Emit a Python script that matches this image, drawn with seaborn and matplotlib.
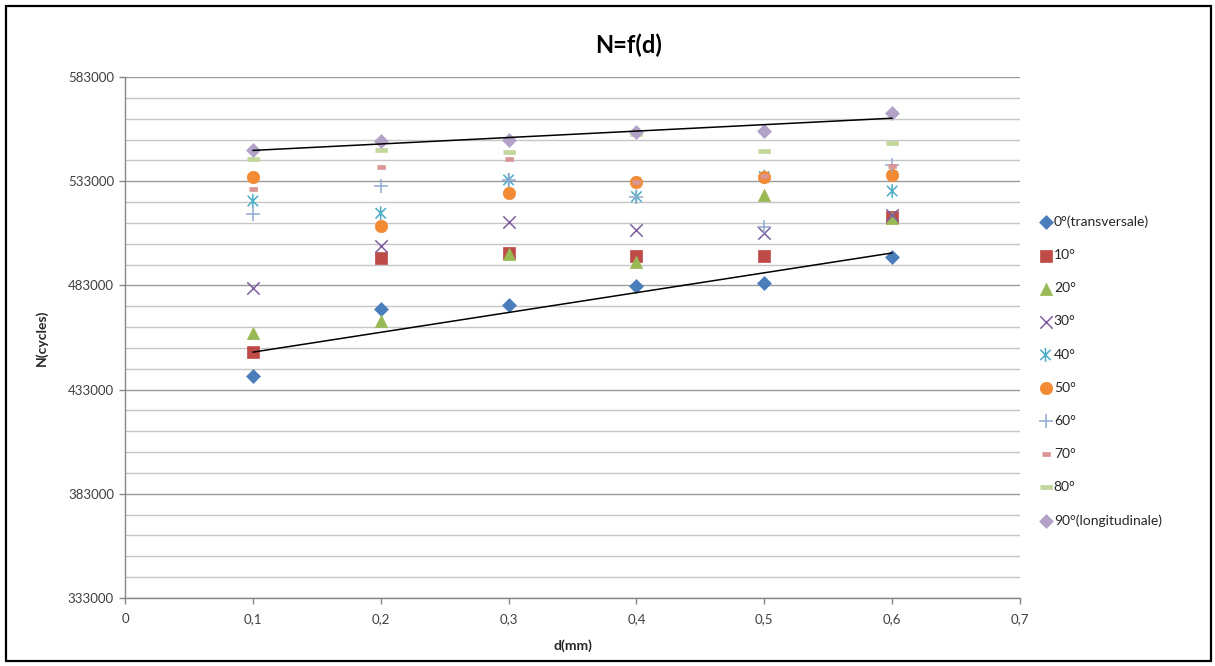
import numpy as np
import pandas as pd
import seaborn as sns
import matplotlib.pyplot as plt
from matplotlib.path import Path
from matplotlib.patches import Rectangle
from matplotlib.ticker import MultipleLocator, FuncFormatter

# données : N (cycles) en fonction de d (mm)
d = [0.1, 0.2, 0.3, 0.4, 0.5, 0.6]
n_0 = [439600, 471600, 473600, 482700, 484300, 496800]
n_10 = [451200, 496300, 498400, 497100, 497100, 515900]
n_20 = [460000, 466000, 498200, 494400, 526400, 515200]
n_30 = [481900, 502000, 513600, 509600, 508300, 516800]
n_40 = [523500, 517600, 533600, 525600, 535200, 528300]
n_50 = [534900, 511500, 527200, 532800, 535200, 536000]
n_60 = [517100, 530800, 533600, 525600, 511200, 540800]
n_70 = [529100, 540000, 543500, 532500, 535500, 540300]
n_80 = [543500, 548000, 546900, 555500, 547500, 551500]
n_90 = [548000, 552300, 552800, 556800, 557200, 565900]

labels = ['0°(transversale)', '10°', '20°', '30°', '40°', '50°', '60°', '70°', '80°',
          '90°(longitudinale)']
series = [n_0, n_10, n_20, n_30, n_40, n_50, n_60, n_70, n_80, n_90]
colors = ['#4A7EBB', '#BE4B48', '#98B954', '#7D5FA0', '#4BACC6', '#F38A34',
          '#92A9CF', '#D99694', '#C3D69B', '#B3A2C7']

y_major = np.arange(333000, 583001, 50000)
y_minor = np.arange(333000, 583001, 10000)

# marqueurs façon Excel
asterisk = Path([(0, -1), (0, 1), (-0.75, -0.75), (0.75, 0.75), (-0.75, 0.75), (0.75, -0.75)],
                [Path.MOVETO, Path.LINETO, Path.MOVETO, Path.LINETO, Path.MOVETO, Path.LINETO])
short_dash = [(-1, -0.5), (1, -0.5), (1, 0.5), (-1, 0.5)]
long_dash = [(-1, -0.3), (1, -0.3), (1, 0.3), (-1, 0.3)]
markers = ['D', 's', '^', 'x', asterisk, 'o', '+', short_dash, long_dash, 'D']
sizes = [50, 68, 78, 80, 100, 80, 100, 36, 80, 50]

sns.set_theme(style='white')
plt.rcParams['font.family'] = ['Lato', 'DejaVu Sans']

fig = plt.figure(figsize=(12.15, 6.66), dpi=100)
ax = fig.add_axes([125 / 1215, 1 - 598 / 666, (1020 - 125) / 1215, (598 - 77) / 666])

for vals, lab, col, mk, sz in zip(series, labels, colors, markers, sizes):
    if mk in ('x', '+'):
        sns.scatterplot(x=d, y=vals, ax=ax, marker=mk, s=sz, color=col, linewidth=1.1,
                        label=lab, zorder=3)
    elif mk is asterisk:
        sns.scatterplot(x=d, y=vals, ax=ax, marker=mk, s=sz, color=col, edgecolor=col,
                        facecolor='none', linewidth=1.1, label=lab, zorder=3)
    else:
        sns.scatterplot(x=d, y=vals, ax=ax, marker=mk, s=sz, color=col, edgecolor=col,
                        linewidth=0.5, label=lab, zorder=3)

# courbes de tendance linéaires (0° et 90°)
for vals in (n_0, n_90):
    sns.regplot(x=d, y=vals, ax=ax, scatter=False, ci=None, truncate=True,
                color='black', line_kws={'lw': 1.1, 'zorder': 4})

ax.set_xlim(0, 0.7)
ax.set_ylim(333000, 583000)
ax.xaxis.set_major_locator(MultipleLocator(0.1))
ax.set_yticks(y_major)
ax.set_yticks(y_minor, minor=True)
ax.xaxis.set_major_formatter(FuncFormatter(lambda v, p: '0' if abs(v) < 1e-9 else f'{v:.1f}'.replace('.', ',')))
ax.yaxis.set_major_formatter(FuncFormatter(lambda v, p: f'{v:.0f}'))

ax.set_axisbelow(True)
ax.grid(axis='y', which='major', color='#9a9a9a', lw=1.0)
ax.grid(axis='y', which='minor', color='#c6c6c6', lw=1.0)
ax.grid(axis='x', visible=False)

for side in ('top', 'right'):
    ax.spines[side].set_visible(False)
for side in ('left', 'bottom'):
    ax.spines[side].set_color('#868686')
    ax.spines[side].set_linewidth(1.0)

ax.tick_params(axis='both', which='major', direction='out', length=4, width=1,
               color='#868686', labelsize=9.5, labelcolor='#404040', pad=4, left=True, bottom=True)
ax.tick_params(axis='x', pad=7)
ax.tick_params(axis='y', which='minor', length=0)

ax.set_xlabel('d(mm)', fontsize=10, fontweight='bold', color='#262626', labelpad=10)
ax.set_ylabel('N(cycles)', fontsize=10, fontweight='bold', color='#262626', labelpad=14)

fig.text(0.517, 1 - 45 / 666, 'N=f(d)', fontsize=17, fontweight='bold', ha='center',
         va='center', color='black')

leg = ax.legend(loc='upper left', bbox_to_anchor=(1033 / 1215, 1 - 210 / 666),
                bbox_transform=fig.transFigure, frameon=False, fontsize=10,
                labelspacing=1.52, handletextpad=0.1, handlelength=1.0, borderaxespad=0)
for t in leg.get_texts():
    t.set_color('#262626')

# cadre noir autour du graphique
fig.patches.append(Rectangle((6 / 1215, 5 / 666), 1205 / 1215, 655 / 666,
                             transform=fig.transFigure, fill=False, edgecolor='black', lw=1.6))

fig.savefig('out.png', dpi=100)
